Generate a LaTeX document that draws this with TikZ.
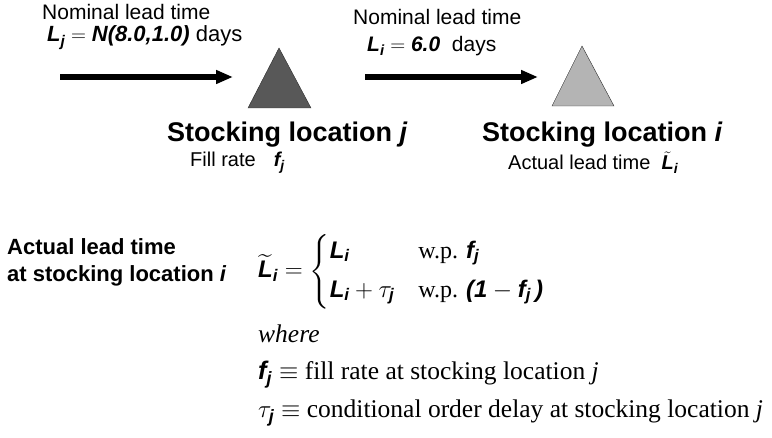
\documentclass[tikz,border=0pt]{standalone}
\usepackage{amsmath}
\usepackage{fontspec}
\setmainfont{Liberation Serif}
\setsansfont{Liberation Sans}
\usetikzlibrary{arrows.meta}
\newcommand{\bi}[1]{\text{\sffamily\bfseries\itshape #1}}
\definecolor{inkgray}{HTML}{2A2A2A}
\definecolor{darkloc}{HTML}{585858}
\definecolor{lightloc}{HTML}{B4B4B4}

\begin{document}
\begin{tikzpicture}[x=1pt, y=-1pt,
  lbl/.style={anchor=base west, inner sep=0pt, font=\sffamily\fontsize{21}{25}\selectfont},
  small/.style={anchor=base west, inner sep=0pt, font=\sffamily\fontsize{20}{24}\selectfont},
  head/.style={anchor=base west, inner sep=0pt, font=\sffamily\bfseries\fontsize{27}{32}\selectfont},
  side/.style={anchor=base west, inner sep=0pt, font=\sffamily\bfseries\fontsize{22}{27}\selectfont},
  txt/.style={anchor=base west, inner sep=0pt, font=\fontsize{25.5}{30}\selectfont},
  flow/.style={line width=6pt, -{Triangle[length=17pt,width=13pt]}}]
	\useasboundingbox (0,0) rectangle (772,438);
	% upstream: location j
	\node[lbl] (nomj) at (42,20) {Nominal lead time};
	\node[lbl, font=\sffamily\fontsize{22}{26}\selectfont] (leadj) at (47,42) {$\bi{L}_{\bi{j}} = \bi{N(8.0,1.0)}$ days};
	\coordinate (tailj) at (60,77);
	\coordinate (tipj) at (233,77);
	\draw[flow] (tailj) -- (tipj);
	\filldraw[draw=inkgray, fill=darkloc] (248,108) -- (311,108) -- (279,48) -- cycle;
	\node[head] (locj) at (167,142) {Stocking location \textit{j}};
	\node[small] (fillj) at (190,167) {Fill rate\hspace{18pt}$\bi{f}_{\bi{j}}$};
	% downstream: location i
	\node[lbl] (nomi) at (353,25) {Nominal lead time};
	\node[lbl] (leadi) at (367,52) {$\bi{L}_{\bi{i}} = \bi{6.0}$\ \ days};
	\coordinate (taili) at (365,77);
	\coordinate (tipi) at (538,77);
	\draw[flow] (taili) -- (tipi);
	\filldraw[draw=inkgray, fill=lightloc] (552,106) -- (614,106) -- (582,46) -- cycle;
	\node[head] (loci) at (482,142) {Stocking location \textit{i}};
	\node[small] (acti) at (508,170) {Actual lead time\ \ $\tilde{\bi{L}}_{\bi{i}}$};
	% actual lead time
	\node[side] (actlbl) at (7,255) {Actual lead time};
	\node[side] (actloc) at (7,282) {at stocking location \textit{i}};
	\node[anchor=base west, inner sep=0pt, font=\fontsize{24}{29}\selectfont] (eq) at (258,278)
	  {$\widetilde{\bi{L}}_{\bi{i}} = \left\{\begin{array}{@{}l@{\hspace{24pt}}l@{}}
	    \bi{L}_{\bi{i}} & \text{w.p. } \bi{f}_{\bi{j}} \\[10pt]
	    \bi{L}_{\bi{i}} + \tau_{\bi{j}} & \text{w.p. } \bi{(1}-\bi{f}_{\bi{j}}\,\bi{)}
	  \end{array}\right.$};
	\node[txt] (where) at (258,343) {\textit{where}};
	\node[txt] (deffill) at (258,380) {$\bi{f}_{\bi{j}} \equiv$ fill rate at stocking location \textit{j}};
	\node[txt] (defdelay) at (258,418) {$\tau_{\bi{j}} \equiv$ conditional order delay at stocking location \textit{j}};
\end{tikzpicture}
\end{document}
